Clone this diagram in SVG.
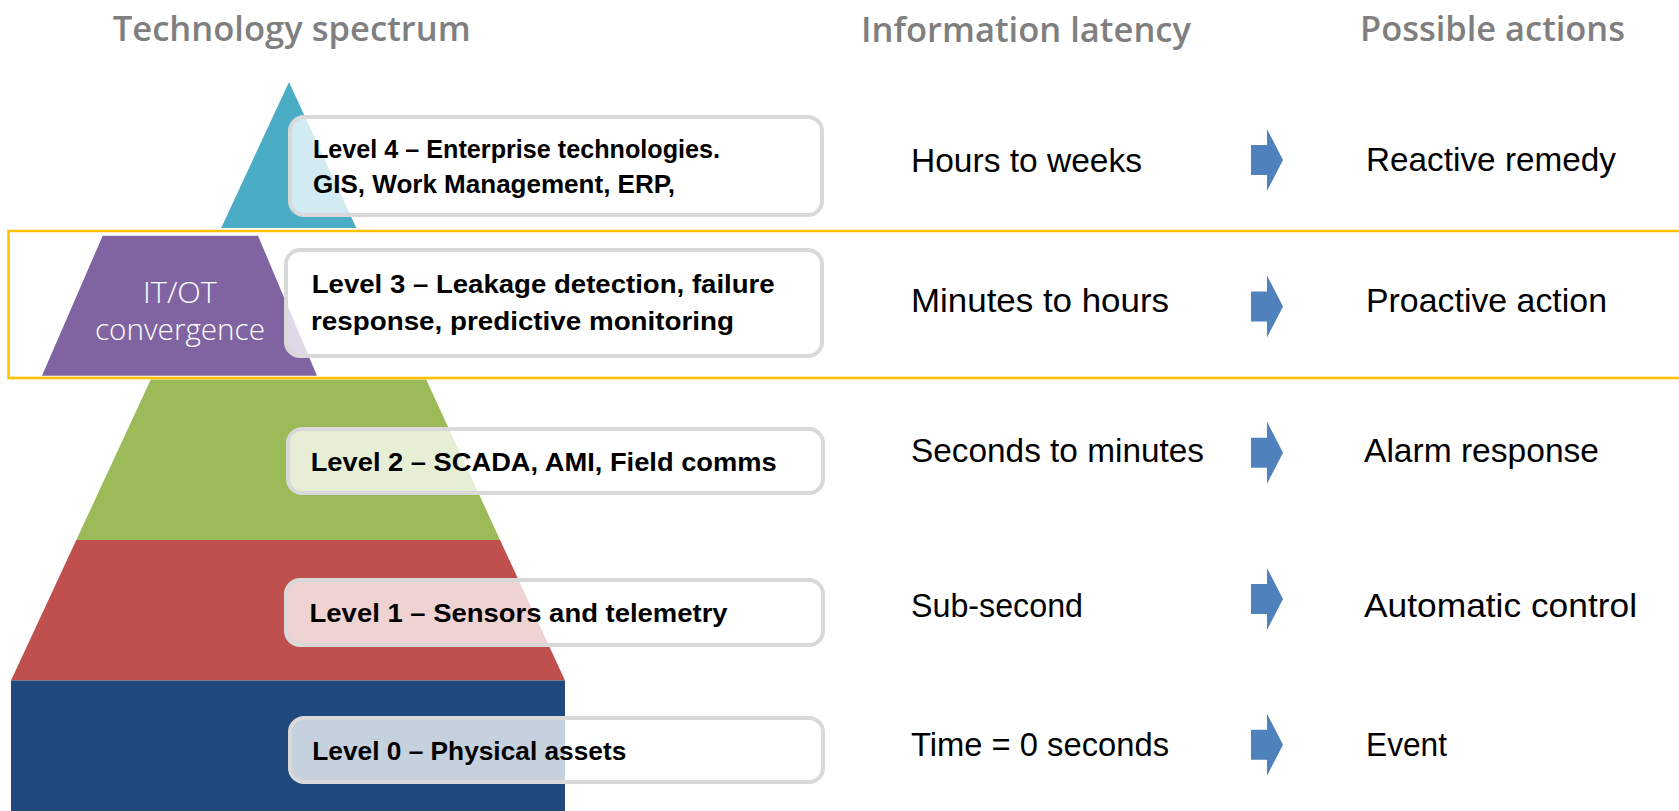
<svg xmlns="http://www.w3.org/2000/svg" width="1679" height="811" viewBox="0 0 1679 811">
  <style>
    .hdr { font-family: "Open Sans", "Liberation Sans", sans-serif; font-weight: 600; font-size: 35px; fill: #7F7F7F; }
    .box { fill: #FFFFFF; fill-opacity: 0.75; stroke: #D9D9D9; stroke-width: 4; }
    .lvl { font-family: "Liberation Sans", Arial, sans-serif; font-weight: bold; font-size: 26px; fill: #000000; }
    .col { font-family: "Liberation Sans", Arial, sans-serif; font-size: 33.5px; fill: #000000; }
    .itot { font-family: "Open Sans", "Liberation Sans", sans-serif; font-weight: 300; font-size: 30px; fill: #FFFFFF; text-anchor: middle; }
    .arrow { fill: #4F81BD; }
  </style>
  <defs>
    <path id="arr" d="M1251,-15 H1267 V-31 L1283,0 L1267,31 V15 H1251 Z"/>
  </defs>
  <rect width="1679" height="811" fill="#FFFFFF"/>

  <!-- Headers -->
  <g id="headers">
    <text class="hdr" x="112.7" y="41" textLength="358" lengthAdjust="spacingAndGlyphs">Technology spectrum</text>
    <text class="hdr" x="861" y="41.7" textLength="330" lengthAdjust="spacingAndGlyphs">Information latency</text>
    <text class="hdr" x="1360" y="41" textLength="265" lengthAdjust="spacingAndGlyphs">Possible actions</text>
  </g>

  <!-- Level 4 -->
  <g id="level4">
    <polygon points="289,82 356.3,228 221.2,228" fill="#4BACC6"/>
    <rect class="box" x="290" y="117" width="532" height="98" rx="14"/>
    <text class="lvl" x="313" y="157.7" textLength="407" lengthAdjust="spacingAndGlyphs">Level 4 – Enterprise technologies.</text>
    <text class="lvl" x="313" y="193.3" textLength="362" lengthAdjust="spacingAndGlyphs">GIS, Work Management, ERP,</text>
    <text class="col" x="911" y="171.7" textLength="231" lengthAdjust="spacingAndGlyphs">Hours to weeks</text>
    <text class="col" x="1366" y="170.7" textLength="250" lengthAdjust="spacingAndGlyphs">Reactive remedy</text>
  </g>

  <!-- Level 3 / IT-OT convergence -->
  <g id="level3">
    <polygon points="102.7,235.7 258,235.7 317,375.7 42,375.7" fill="#8064A2"/>
    <text class="itot" x="180" y="303" textLength="74" lengthAdjust="spacingAndGlyphs">IT/OT</text>
    <text class="itot" x="180" y="340" textLength="170" lengthAdjust="spacingAndGlyphs">convergence</text>
    <rect class="box" x="286" y="250" width="536" height="106" rx="14"/>
    <text class="lvl" x="311.7" y="293.3" textLength="463" lengthAdjust="spacingAndGlyphs">Level 3 – Leakage detection, failure</text>
    <text class="lvl" x="311" y="330" textLength="423" lengthAdjust="spacingAndGlyphs">response, predictive monitoring</text>
    <text class="col" x="911" y="311.7" textLength="258" lengthAdjust="spacingAndGlyphs">Minutes to hours</text>
    <text class="col" x="1366" y="311.7" textLength="241" lengthAdjust="spacingAndGlyphs">Proactive action</text>
  </g>

  <!-- Level 2 -->
  <g id="level2">
    <polygon points="150.8,379.5 426.2,379.5 500.1,540 76.3,540" fill="#9BBB59"/>
    <rect class="box" x="288" y="429" width="535" height="64" rx="14"/>
    <text class="lvl" x="310.7" y="470.7" textLength="466" lengthAdjust="spacingAndGlyphs">Level 2 – SCADA, AMI, Field comms</text>
    <text class="col" x="911" y="462.3" textLength="293" lengthAdjust="spacingAndGlyphs">Seconds to minutes</text>
    <text class="col" x="1364" y="462.3" textLength="235" lengthAdjust="spacingAndGlyphs">Alarm response</text>
  </g>

  <!-- Level 1 -->
  <g id="level1">
    <polygon points="76.3,540 500.1,540 565,680.5 11,680.5" fill="#C0504D"/>
    <rect class="box" x="286" y="580" width="537" height="65" rx="14"/>
    <text class="lvl" x="309.6" y="621.7" textLength="418" lengthAdjust="spacingAndGlyphs">Level 1 – Sensors and telemetry</text>
    <text class="col" x="911" y="617.3" textLength="172" lengthAdjust="spacingAndGlyphs">Sub-second</text>
    <text class="col" x="1364" y="617.3" textLength="273" lengthAdjust="spacingAndGlyphs">Automatic control</text>
  </g>

  <!-- Level 0 -->
  <g id="level0">
    <rect x="11" y="680.5" width="554" height="131" fill="#1F497D"/>
    <rect class="box" x="290" y="718" width="533" height="64" rx="14"/>
    <text class="lvl" x="312.3" y="760" textLength="314" lengthAdjust="spacingAndGlyphs">Level 0 – Physical assets</text>
    <text class="col" x="911" y="756" textLength="258" lengthAdjust="spacingAndGlyphs">Time = 0 seconds</text>
    <text class="col" x="1366" y="756" textLength="81" lengthAdjust="spacingAndGlyphs">Event</text>
  </g>

  <!-- IT/OT convergence band -->
  <g id="convergence-band">
    <rect x="8.5" y="231" width="1690" height="147" fill="none" stroke="#FFC000" stroke-width="2.5"/>
  </g>

  <!-- Connectors (arrows) -->
  <g id="connectors">
    <use href="#arr" class="arrow" transform="translate(0,160)"/>
    <use href="#arr" class="arrow" transform="translate(0,306.5)"/>
    <use href="#arr" class="arrow" transform="translate(0,452.7)"/>
    <use href="#arr" class="arrow" transform="translate(0,599)"/>
    <use href="#arr" class="arrow" transform="translate(0,744.7)"/>
  </g>
</svg>
